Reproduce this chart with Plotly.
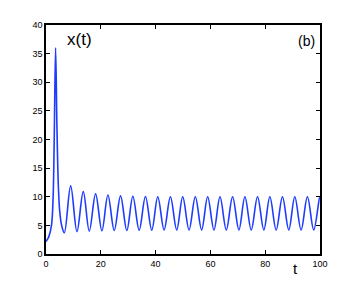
import plotly.graph_objects as go

# Key points (time t, value x)
t_vals = [0.0, 1.0, 2.0, 2.6, 3.0, 3.5, 4.0, 4.5, 5.0, 5.7, 6.7,
          9.0, 11.3, 13.6, 15.8, 18.1, 20.4, 22.6, 24.9, 27.2, 29.5,
          31.7, 34.0, 36.3, 38.6, 40.8, 43.1, 45.4, 47.7, 49.9, 52.2,
          54.5, 56.8, 59.0, 61.3, 63.5, 65.8, 68.1, 70.4, 72.6, 74.9,
          77.2, 79.5, 81.7, 84.0, 86.3, 88.6, 90.8, 93.1, 95.4, 97.7,
          99.9, 100.0]
x_vals = [2.2, 3.0, 5.0, 10.0, 20.0, 36.0, 22.0, 12.0, 7.5, 5.0, 3.7,
          11.9, 3.9, 10.9, 4.0, 10.5, 4.05, 10.3, 4.1, 10.15, 4.1,
          10.1, 4.15, 10.05, 4.15, 10.0, 4.2, 10.0, 4.2, 10.0, 4.2,
          10.0, 4.2, 10.0, 4.2, 10.0, 4.2, 10.0, 4.2, 10.0, 4.2,
          10.0, 4.2, 10.0, 4.2, 10.0, 4.2, 10.0, 4.2, 10.0, 4.2,
          10.0, 9.95]

x_ticks = [0, 20, 40, 60, 80, 100]
y_ticks = [0, 5, 10, 15, 20, 25, 30, 35, 40]

fig = go.Figure()
fig.add_trace(go.Scatter(
    x=t_vals, y=x_vals, mode="lines",
    line=dict(color="rgb(30,60,255)", width=1.6, shape="spline", smoothing=1.0),
    hoverinfo="skip", showlegend=False,
))

axis_common = dict(
    showgrid=False, zeroline=False, showline=True, linecolor="black",
    linewidth=1.5, mirror="ticks", ticks="inside", ticklen=4,
    tickcolor="black", tickwidth=1,
    tickfont=dict(family="Liberation Sans, Arial, sans-serif", size=9, color="black"),
)

fig.update_xaxes(range=[0, 100], tickvals=x_ticks, **axis_common)
fig.update_yaxes(range=[0, 40], tickvals=y_ticks, **axis_common)

fig.add_annotation(text="x(t)", xref="paper", yref="paper", x=0.068, y=0.935,
                   xanchor="left", yanchor="middle", showarrow=False,
                   font=dict(family="Liberation Sans, Arial, sans-serif", size=17, color="black"))
fig.add_annotation(text="(b)", xref="paper", yref="paper", x=0.99, y=0.93,
                   xanchor="right", yanchor="middle", showarrow=False,
                   font=dict(family="Liberation Sans, Arial, sans-serif", size=14, color="black"))
fig.add_annotation(text="t", xref="paper", yref="paper", x=0.91, y=-0.065,
                   xanchor="center", yanchor="middle", showarrow=False,
                   font=dict(family="Liberation Sans, Arial, sans-serif", size=15, color="black"))

# The page body adds an 8px offset, so margins are shifted to compensate
fig.update_layout(
    width=354, height=286,
    margin=dict(l=38, r=42, t=14, b=40),
    paper_bgcolor="white", plot_bgcolor="white",
)

fig.write_html("out.html")
